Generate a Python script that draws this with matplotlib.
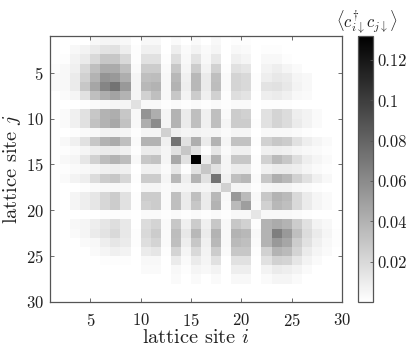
import numpy as np
import matplotlib
matplotlib.use("Agg")
import matplotlib.pyplot as plt

plt.rcParams['font.family'] = ['cmr10', 'DejaVu Serif']
plt.rcParams['mathtext.fontset'] = 'cm'
plt.rcParams['axes.formatter.use_mathtext'] = True

# each row is one j, percent of the colour scale maximum
fila_01 = [0,0,0,0,3,4,4,3,0,3,3,0,2,0,2,0,3,0,1,1,0,0,0,0,0,0,0,0,0]
fila_02 = [0,0,3,5,8,11,12,7,1,6,6,0,7,2,5,2,4,0,3,2,0,1,1,0,0,0,0,0,0]
fila_03 = [0,1,5,8,15,22,22,15,1,12,12,1,13,3,11,3,9,0,6,4,0,3,3,1,0,0,0,0,0]
fila_04 = [1,3,6,15,25,33,33,25,2,20,20,2,22,4,20,5,18,1,12,10,0,5,7,4,2,0,0,0,0]
fila_05 = [2,3,8,18,30,42,40,32,4,25,26,3,28,6,28,8,25,2,17,15,1,7,9,8,4,3,0,0,0]
fila_06 = [2,3,8,22,35,48,55,40,4,28,30,3,30,7,28,8,26,2,17,15,1,11,12,9,5,3,0,0,0]
fila_07 = [0,2,4,12,25,32,36,30,4,18,25,3,22,5,20,6,18,1,13,11,0,7,8,6,3,2,0,0,0]
fila_08 = [0,0,0,1,2,3,4,4,12,3,3,1,2,1,2,1,2,1,2,2,0,1,1,1,0,0,0,0,0]
fila_09 = [0,2,6,12,22,30,32,22,3,42,32,4,30,8,25,6,25,2,20,18,0,12,17,14,7,5,2,0,0]
fila_10 = [0,2,6,12,24,30,34,24,3,32,45,4,30,8,25,6,25,4,20,20,1,12,17,14,8,5,2,0,0]
fila_11 = [0,0,1,2,3,5,5,4,1,4,4,18,6,4,5,4,4,2,4,4,0,3,3,3,2,1,0,0,0]
fila_12 = [0,3,6,12,22,30,33,25,2,30,30,6,55,12,32,8,30,4,24,24,1,18,22,20,12,7,4,2,0]
fila_13 = [0,1,2,4,7,8,8,6,1,8,8,4,12,22,12,1,10,2,6,6,0,6,7,6,4,3,2,1,0]
fila_14 = [0,3,4,10,18,26,30,26,3,22,24,4,34,12,100,8,30,4,22,22,1,18,27,22,13,7,4,2,0]
fila_15 = [0,1,2,3,4,6,7,6,0,6,6,2,10,1,12,22,12,4,8,8,1,6,8,8,7,4,2,1,0]
fila_16 = [0,2,5,7,14,20,22,16,1,20,20,4,28,7,30,12,55,6,25,28,2,22,32,28,18,12,6,3,0]
fila_17 = [0,0,0,1,2,3,3,3,0,4,4,2,4,4,5,4,6,18,4,4,1,4,5,5,3,2,1,0,0]
fila_18 = [0,0,4,7,10,16,20,12,1,20,20,2,25,8,25,8,28,3,40,27,3,22,30,27,15,8,4,2,0]
fila_19 = [0,0,4,7,10,16,20,12,1,18,20,2,25,8,22,8,30,2,27,38,2,18,28,25,15,8,4,2,0]
fila_20 = [0,0,0,0,0,1,1,1,0,2,2,1,2,1,2,1,2,1,3,3,10,3,3,3,2,1,0,0,0]
fila_21 = [0,0,3,4,7,10,13,9,0,14,17,2,22,6,20,6,22,3,22,18,1,30,33,30,20,12,5,3,0]
fila_22 = [0,0,2,4,8,11,15,9,1,15,20,2,26,9,28,8,30,3,30,28,3,30,50,40,25,14,8,4,1]
fila_23 = [0,0,0,2,3,7,10,8,1,13,17,2,25,7,22,6,28,3,27,25,2,30,40,35,20,12,6,3,1]
fila_24 = [0,0,0,0,2,4,6,5,0,8,10,1,17,4,15,5,20,2,22,22,1,18,30,27,17,8,4,2,0]
fila_25 = [0,0,0,0,0,1,1,1,0,3,3,0,8,2,8,4,12,0,12,12,0,12,18,17,10,5,2,0,0]
fila_26 = [0,0,0,0,0,0,0,0,0,2,2,0,3,1,4,3,5,0,7,7,0,5,8,7,5,2,0,0,0]
fila_27 = [0,0,0,0,0,0,0,0,0,0,0,0,2,0,2,0,2,0,3,3,0,2,4,4,2,0,0,0,0]
fila_28 = [0]*29
fila_29 = [0]*29

filas = [fila_01, fila_02, fila_03, fila_04, fila_05, fila_06, fila_07, fila_08,
         fila_09, fila_10, fila_11, fila_12, fila_13, fila_14, fila_15, fila_16,
         fila_17, fila_18, fila_19, fila_20, fila_21, fila_22, fila_23, fila_24,
         fila_25, fila_26, fila_27, fila_28, fila_29]

sitios = np.arange(1, 31)
ticks_sitio = [5, 10, 15, 20, 25, 30]
ticks_barra = [0.02, 0.04, 0.06, 0.08, 0.1, 0.12]
etiquetas_barra = ['0.02', '0.04', '0.06', '0.08', '0.1', '0.12']
vmax = 0.132

matriz = np.array(filas) / 100 * vmax

W, H = 407, 347
color_eje = '#555555'
color_texto = '#202020'
fig = plt.figure(figsize=(W / 100, H / 100), dpi=100)
ax = fig.add_axes([50 / W, 1 - 302 / H, 292 / W, 266 / H])
cax = fig.add_axes([358 / W, 1 - 302 / H, 15 / W, 266 / H])

malla = ax.pcolormesh(sitios, sitios, matriz, cmap='gray_r', vmin=0, vmax=vmax)
ax.set_xlim(1, 30)
ax.set_ylim(30, 1)
ax.set_xticks(ticks_sitio)
ax.set_yticks(ticks_sitio)
ax.tick_params(direction='in', length=3, width=0.6, top=True, right=True,
               labelsize=12, color=color_eje, labelcolor=color_texto)
ax.tick_params(axis='x', pad=7)
ax.tick_params(axis='y', pad=4.5)
for s in ax.spines.values():
    s.set_linewidth(0.9)
    s.set_color(color_eje)
ax.set_xlabel(r'lattice site $i$', fontsize=14.7, labelpad=0, color=color_texto)
ax.set_ylabel(r'lattice site $j$', fontsize=14.7, labelpad=2, color=color_texto)

barra = fig.colorbar(malla, cax=cax)
barra.set_ticks(ticks_barra)
barra.set_ticklabels(etiquetas_barra)
barra.ax.tick_params(direction='in', length=2, width=0.6, labelsize=12,
                     color=color_eje, labelcolor=color_texto, pad=3)
barra.outline.set_linewidth(0.9)
barra.outline.set_edgecolor(color_eje)
cax.set_title(r'$\langle c_{i\downarrow}^{\dagger} c_{j\downarrow}\rangle$',
              fontsize=12, pad=5, x=0.55, color=color_texto)

fig.savefig('out.png', dpi=100)
